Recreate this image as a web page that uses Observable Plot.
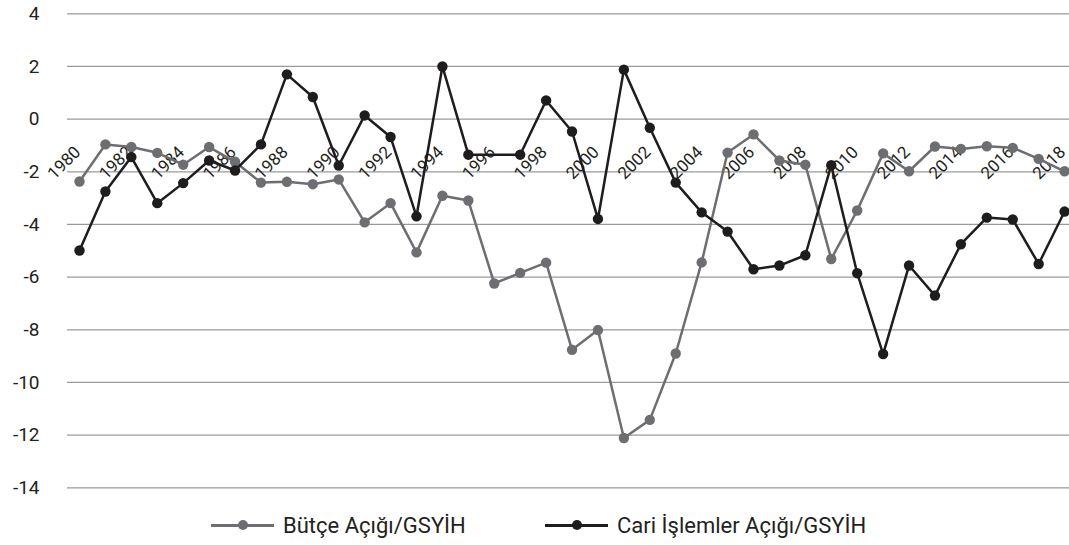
<!DOCTYPE html>
<html>
<head>
<meta charset="utf-8">
<script src="https://cdn.jsdelivr.net/npm/d3@7"></script>
<script src="https://cdn.jsdelivr.net/npm/@observablehq/plot@0.6"></script>
<style>
  html, body { margin: 0; padding: 0; background: #fff; }
  #chart { width: 1069px; }
  #legend { position: relative; width: 1069px; height: 40px; font-family: Roboto, "Noto Sans", sans-serif; font-size: 22px; color: #231f20; }
  .item { position: absolute; top: 0; height: 40px; display: flex; align-items: center; }
  .swatch { position: relative; width: 63px; height: 12px; margin-right: 9px; }
  .swatch .ln { position: absolute; left: 0; right: 0; top: 5px; height: 2.5px; }
  .swatch .pt { position: absolute; left: 27px; top: 1px; width: 10px; height: 10px; border-radius: 50%; }
</style>
</head>
<body>
<div id="chart"></div>
<div id="legend"></div>
<script>
const years = d3.range(1980, 2019);
const butceAcigi = [
  -2.37, -0.96, -1.06, -1.28, -1.73, -1.06, -1.62, -2.41, -2.38, -2.47,
  -2.29, -3.92, -3.19, -5.06, -2.91, -3.09, -6.24, -5.84, -5.45, -8.76,
  -8.01, -12.11, -11.42, -8.9, -5.44, -1.27, -0.58, -1.57, -1.73, -5.31,
  -3.47, -1.3, -1.98, -1.04, -1.13, -1.03, -1.09, -1.51, -1.98
];
const cariAcik = [
  -4.99, -2.75, -1.44, -3.19, -2.43, -1.57, -1.95, -0.96, 1.7, 0.84,
  -1.76, 0.14, -0.68, -3.69, 2.0, -1.35, null, -1.35, 0.71, -0.47,
  -3.79, 1.88, -0.33, -2.41, -3.54, -4.27, -5.7, -5.56, -5.17, -1.75,
  -5.85, -8.92, -5.56, -6.7, -4.75, -3.74, -3.81, -5.5, -3.51
];
const labelYears = d3.range(1980, 2019, 2);
const yTicks = d3.range(-14, 5, 2);
const seriesNames = ["Bütçe Açığı/GSYİH", "Cari İşlemler Açığı/GSYİH"];
const seriesColors = ["#6d6e71", "#1f1c1d"];

const butce = years.map((y, i) => ({year: y, value: butceAcigi[i]})).filter(d => d.value != null);
const cari = years.map((y, i) => ({year: y, value: cariAcik[i]})).filter(d => d.value != null);

const plot = Plot.plot({
  width: 1069,
  height: 505,
  marginTop: 13.3,
  marginBottom: 17.7,
  marginLeft: 67,
  marginRight: 0,
  style: {fontFamily: "Roboto, 'Noto Sans', sans-serif"},
  x: {type: "linear", domain: [1979.537, 2018.19], axis: null},
  y: {domain: [-14, 4], axis: null},
  marks: [
    Plot.ruleY(yTicks, {stroke: "#9a9a9a", strokeWidth: 1.3}),
    Plot.axisY(yTicks, {tickSize: 0, tickPadding: 28, fontSize: 19, tickFormat: d => String(d), fill: "#231f20", label: null}),
    Plot.text(labelYears, {x: d => d, y: () => 0, text: d => String(d), rotate: -45, textAnchor: "end", lineAnchor: "bottom", dx: 2, dy: 34, fontSize: 17, fill: "#231f20", className: "yearlabels"}),
    Plot.line(butce, {x: "year", y: "value", stroke: seriesColors[0], strokeWidth: 2.5}),
    Plot.dot(butce, {x: "year", y: "value", fill: seriesColors[0], r: 5.2}),
    Plot.line(cari, {x: "year", y: "value", stroke: seriesColors[1], strokeWidth: 2.5}),
    Plot.dot(cari, {x: "year", y: "value", fill: seriesColors[1], r: 5.2})
  ]
});

// Express each year label's translate + rotate(-45) as a single matrix transform
const c = Math.SQRT1_2;
plot.querySelectorAll(".yearlabels text").forEach(t => {
  const m = /translate\(\s*([-\d.e]+)[ ,]+([-\d.e]+)\s*\)/.exec(t.getAttribute("transform") || "");
  if (m) {
    const tx = +m[1], ty = +m[2];
    t.setAttribute("transform", `matrix(${c},${-c},${c},${c},${tx},${ty})`);
  }
});
document.getElementById("chart").appendChild(plot);

const legend = document.getElementById("legend");
const lefts = [211, 545];
seriesNames.forEach((name, i) => {
  const item = document.createElement("div");
  item.className = "item";
  item.style.left = lefts[i] + "px";
  item.innerHTML = `<div class="swatch"><div class="ln" style="background:${seriesColors[i]}"></div><div class="pt" style="background:${seriesColors[i]}"></div></div><span>${name}</span>`;
  legend.appendChild(item);
});
</script>
</body>
</html>
